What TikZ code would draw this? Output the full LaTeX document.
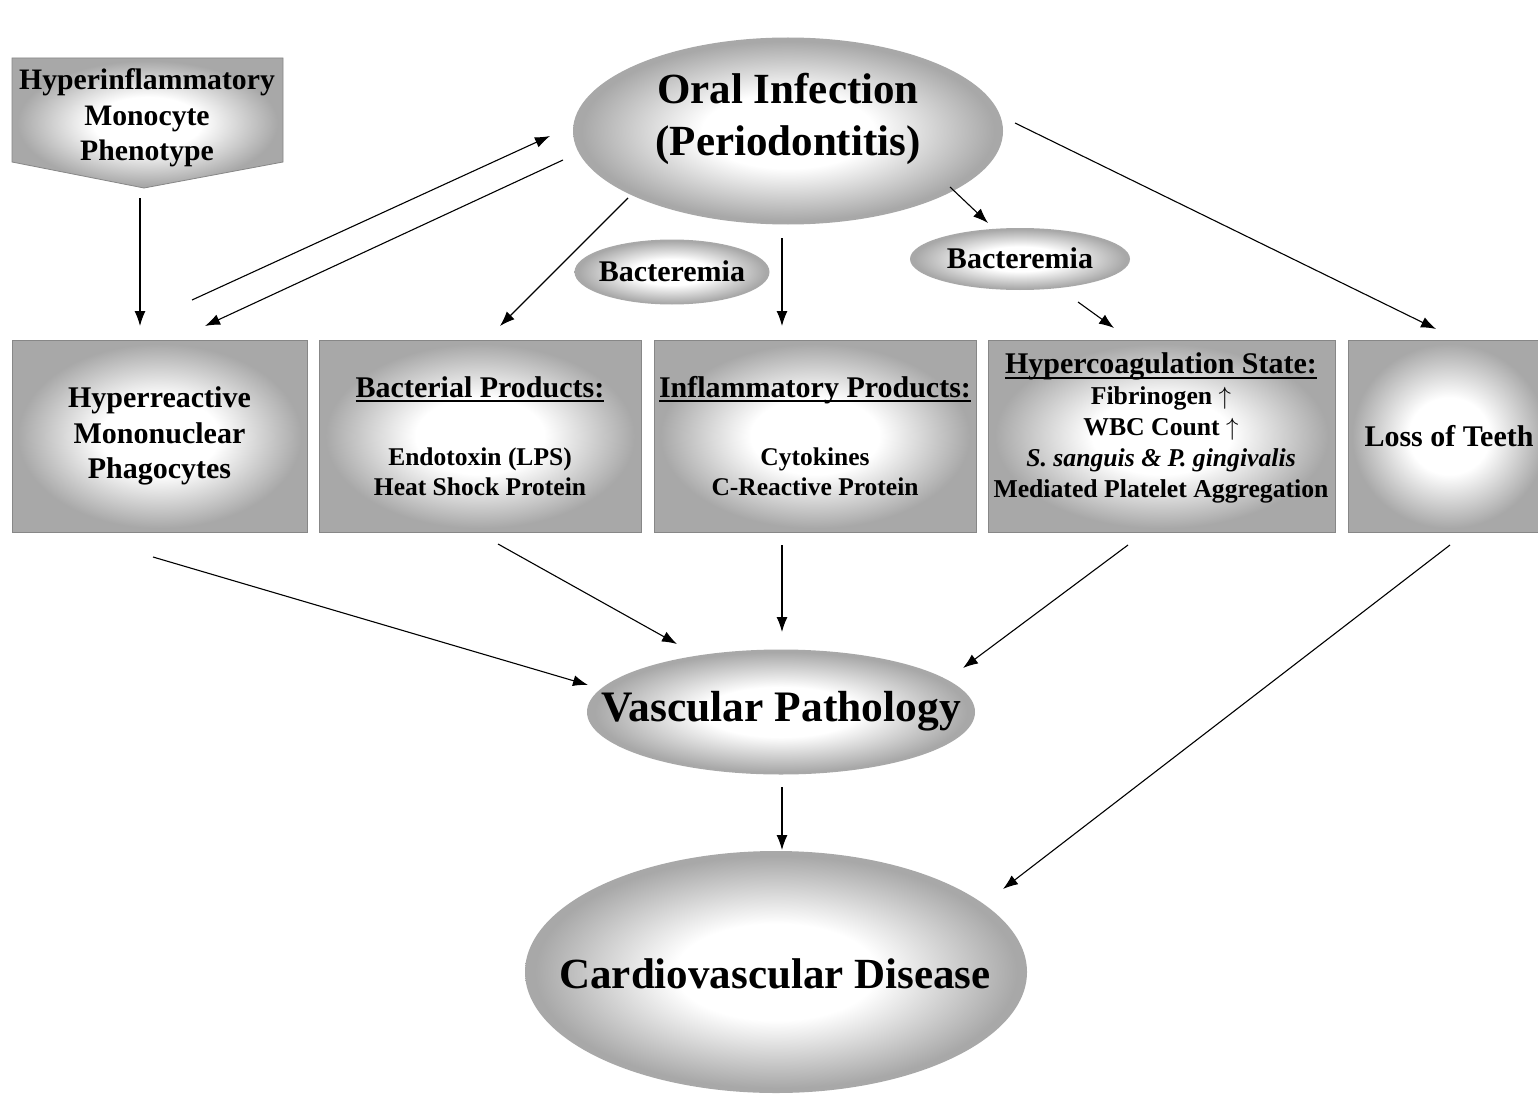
\documentclass[tikz,border=0pt]{standalone}
\usepackage{fontspec}
\setmainfont{Liberation Serif}
\usetikzlibrary{arrows.meta,shapes.geometric}
\definecolor{shg}{RGB}{168,168,168}
\definecolor{edgeg}{RGB}{135,135,135}
\pgfdeclareradialshading{myrad}{\pgfpoint{0bp}{0bp}}{color(0bp)=(white); color(10bp)=(white); color(24bp)=(shg); color(50bp)=(shg)}
\newcommand\myul[1]{\setbox0\hbox{#1}\rlap{\rule[-5pt]{\wd0}{2pt}}\box0}
\begin{document}
\begin{tikzpicture}[x=1pt,y=-1pt,
  boxst/.style={rectangle, shade, shading=myrad, draw=edgeg, line width=0.8pt, inner sep=0pt, align=center},
  ellst/.style={ellipse, shade, shading=myrad, inner sep=0pt},
  arr/.style={-{Latex[length=15pt,width=11pt]}, line width=1.1pt},
  txt/.style={align=center, inner sep=0pt}
]
\useasboundingbox (0,0) rectangle (1538,1094);
\fill[white] (0,0) rectangle (1538,1094);

% top-left pentagon
\path[shade, shading=myrad, draw=edgeg, line width=0.8pt] (12,58) -- (283,58) -- (283,162) -- (144,188) -- (12,162) -- cycle;
\node[txt, font=\fontsize{29.7}{35.5}\selectfont\bfseries] (pheno) at (147,118) {Hyperinflammatory\\Monocyte\\Phenotype};

% top ellipse
\node[ellst, minimum width=430pt, minimum height=187pt] (oral) at (788,131) {};
\node[txt, font=\fontsize{43}{52}\selectfont\bfseries] (oraltxt) at (788,119) {Oral Infection\\(Periodontitis)};

% bacteremia
\node[ellst, minimum width=195pt, minimum height=65pt] (bact1) at (672,272) {};
\node[txt, font=\fontsize{30}{34}\selectfont\bfseries] (bact1txt) at (672,271) {Bacteremia};
\node[ellst, minimum width=220pt, minimum height=62pt] (bact2) at (1020,259) {};
\node[txt, font=\fontsize{30}{34}\selectfont\bfseries] (bact2txt) at (1020,258) {Bacteremia};

% row of boxes
\node[boxst, minimum width=295pt, minimum height=192pt, font=\fontsize{30}{35.5}\selectfont\bfseries] (box1) at (159.5,436) {Hyperreactive\\Mononuclear\\Phagocytes};
\node[boxst, minimum width=322pt, minimum height=192pt, font=\fontsize{25.5}{30}\selectfont\bfseries] (box2) at (480,436) {{\fontsize{30}{30}\selectfont\myul{Bacterial Products:}}\\[38pt]Endotoxin (LPS)\\Heat Shock Protein};
\node[boxst, minimum width=322pt, minimum height=192pt, font=\fontsize{25.5}{30}\selectfont\bfseries] (box3) at (815,436) {{\fontsize{30}{30}\selectfont\myul{Inflammatory Products:}}\\[38pt]Cytokines\\C-Reactive Protein};
\node[boxst, minimum width=347pt, minimum height=192pt] (box4) at (1161.5,436) {};
\node[txt, font=\fontsize{25.7}{31}\selectfont\bfseries] (box4txt) at (1161,428) {{\fontsize{30}{31}\selectfont\myul{Hypercoagulation State:}}\\Fibrinogen $\uparrow$\\WBC Count $\uparrow$\\\textit{S. sanguis \& P. gingivalis}\\Mediated Platelet Aggregation};
\node[boxst, minimum width=202pt, minimum height=192pt, font=\fontsize{30}{35}\selectfont\bfseries] (box5) at (1449,436) {Loss of Teeth};

% lower ellipses
\node[ellst, minimum width=388pt, minimum height=125pt] (vasc) at (781,712) {};
\node[txt, font=\fontsize{43.5}{50}\selectfont\bfseries] (vasctxt) at (781,711) {Vascular Pathology};
\node[ellst, minimum width=502pt, minimum height=242pt] (cvd) at (776,972) {};
\node[txt, font=\fontsize{43}{50}\selectfont\bfseries] (cvdtxt) at (775,974) {Cardiovascular Disease};

% arrow end points
\coordinate (c1a) at (140,198);  \coordinate (c1b) at (140,326);
\coordinate (c2a) at (192,300);  \coordinate (c2b) at (550,136);
\coordinate (c3a) at (563,160);  \coordinate (c3b) at (205,326);
\coordinate (c4a) at (628,198);  \coordinate (c4b) at (500,326);
\coordinate (c5a) at (782,238);  \coordinate (c5b) at (782,326);
\coordinate (c6a) at (950,187);  \coordinate (c6b) at (988,223);
\coordinate (c7a) at (1078,302); \coordinate (c7b) at (1114,328);
\coordinate (c8a) at (1015,123); \coordinate (c8b) at (1436,329);
\coordinate (c9a) at (153,557);  \coordinate (c9b) at (588,685);
\coordinate (c10a) at (498,544); \coordinate (c10b) at (677,644);
\coordinate (c11a) at (782,545); \coordinate (c11b) at (782,632);
\coordinate (c12a) at (1128,545); \coordinate (c12b) at (963,668);
\coordinate (c13a) at (782,787); \coordinate (c13b) at (782,850);
\coordinate (c14a) at (1450,545); \coordinate (c14b) at (1003,889);

\foreach \i in {1,...,14} {\draw[arr] (c\i a) -- (c\i b);}
\end{tikzpicture}
\end{document}
